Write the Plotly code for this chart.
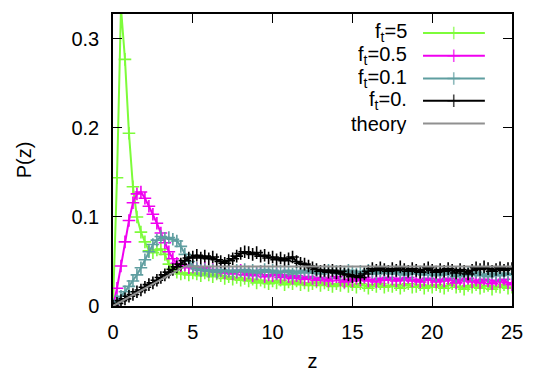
import plotly.graph_objects as go

# bin centres, z = 0 .. 25 in steps of 0.25
z = [
    0.0, 0.25, 0.5, 0.75, 1.0, 1.25, 1.5, 1.75, 2.0, 2.25,
    2.5, 2.75, 3.0, 3.25, 3.5, 3.75, 4.0, 4.25, 4.5, 4.75,
    5.0, 5.25, 5.5, 5.75, 6.0, 6.25, 6.5, 6.75, 7.0, 7.25,
    7.5, 7.75, 8.0, 8.25, 8.5, 8.75, 9.0, 9.25, 9.5, 9.75,
    10.0, 10.25, 10.5, 10.75, 11.0, 11.25, 11.5, 11.75, 12.0, 12.25,
    12.5, 12.75, 13.0, 13.25, 13.5, 13.75, 14.0, 14.25, 14.5, 14.75,
    15.0, 15.25, 15.5, 15.75, 16.0, 16.25, 16.5, 16.75, 17.0, 17.25,
    17.5, 17.75, 18.0, 18.25, 18.5, 18.75, 19.0, 19.25, 19.5, 19.75,
    20.0, 20.25, 20.5, 20.75, 21.0, 21.25, 21.5, 21.75, 22.0, 22.25,
    22.5, 22.75, 23.0, 23.25, 23.5, 23.75, 24.0, 24.25, 24.5, 24.75,
    25.0,
]

p_ft5 = [
    0.000, 0.144, 0.335, 0.277, 0.194, 0.134, 0.100, 0.083, 0.072, 0.062,
    0.060, 0.063, 0.064, 0.058, 0.047, 0.042, 0.038, 0.036, 0.037, 0.035,
    0.037, 0.036, 0.034, 0.037, 0.035, 0.033, 0.036, 0.034, 0.031, 0.033,
    0.030, 0.032, 0.029, 0.031, 0.028, 0.030, 0.026, 0.029, 0.027, 0.025,
    0.028, 0.026, 0.029, 0.024, 0.027, 0.025, 0.028, 0.024, 0.026, 0.023,
    0.025, 0.027, 0.023, 0.026, 0.024, 0.022, 0.025, 0.023, 0.026, 0.022,
    0.024, 0.021, 0.025, 0.023, 0.020, 0.024, 0.022, 0.025, 0.021, 0.023,
    0.022, 0.024, 0.020, 0.023, 0.025, 0.021, 0.022, 0.024, 0.020, 0.023,
    0.021, 0.024, 0.022, 0.020, 0.023, 0.025, 0.021, 0.022, 0.019, 0.023,
    0.021, 0.024, 0.020, 0.022, 0.023, 0.019, 0.022, 0.021, 0.024, 0.020,
    0.021,
]

p_ft05 = [
    0.000, 0.020, 0.045, 0.072, 0.096, 0.116, 0.126, 0.128, 0.121, 0.112,
    0.103, 0.093, 0.082, 0.071, 0.061, 0.053, 0.048, 0.045, 0.046, 0.043,
    0.044, 0.042, 0.040, 0.043, 0.039, 0.041, 0.038, 0.040, 0.037, 0.039,
    0.036, 0.038, 0.040, 0.035, 0.037, 0.034, 0.036, 0.038, 0.033, 0.035,
    0.034, 0.036, 0.032, 0.035, 0.033, 0.031, 0.034, 0.032, 0.030, 0.033,
    0.031, 0.029, 0.032, 0.030, 0.028, 0.031, 0.033, 0.029, 0.027, 0.030,
    0.028, 0.031, 0.029, 0.032, 0.028, 0.030, 0.027, 0.031, 0.029, 0.032,
    0.030, 0.028, 0.031, 0.029, 0.032, 0.028, 0.030, 0.027, 0.029, 0.031,
    0.029, 0.027, 0.030, 0.028, 0.031, 0.029, 0.026, 0.030, 0.028, 0.031,
    0.027, 0.029, 0.026, 0.030, 0.028, 0.025, 0.029, 0.027, 0.030, 0.026,
    0.024,
]

p_ft01 = [
    0.002, 0.006, 0.011, 0.016, 0.022, 0.028, 0.035, 0.043, 0.052, 0.061,
    0.069, 0.074, 0.078, 0.076, 0.077, 0.075, 0.073, 0.067, 0.058, 0.050,
    0.045, 0.042, 0.040, 0.041, 0.039, 0.040, 0.038, 0.041, 0.039, 0.040,
    0.038, 0.040, 0.039, 0.041, 0.038, 0.040, 0.037, 0.039, 0.041, 0.038,
    0.040, 0.037, 0.039, 0.038, 0.040, 0.036, 0.039, 0.037, 0.040, 0.038,
    0.037, 0.039, 0.036, 0.038, 0.040, 0.037, 0.039, 0.036, 0.038, 0.040,
    0.038, 0.036, 0.039, 0.037, 0.040, 0.038, 0.036, 0.039, 0.037, 0.038,
    0.036, 0.039, 0.037, 0.035, 0.038, 0.036, 0.039, 0.037, 0.035, 0.038,
    0.036, 0.034, 0.037, 0.035, 0.038, 0.036, 0.033, 0.036, 0.034, 0.037,
    0.035, 0.038, 0.034, 0.036, 0.033, 0.037, 0.035, 0.034, 0.037, 0.035,
    0.036,
]

p_ft0 = [
    0.000, 0.003, 0.006, 0.008, 0.011, 0.013, 0.016, 0.018, 0.021, 0.024,
    0.026, 0.029, 0.032, 0.035, 0.038, 0.041, 0.044, 0.047, 0.051, 0.054,
    0.055, 0.057, 0.054, 0.056, 0.053, 0.055, 0.052, 0.050, 0.048, 0.051,
    0.053, 0.056, 0.059, 0.061, 0.060, 0.058, 0.060, 0.056, 0.057, 0.054,
    0.055, 0.052, 0.054, 0.051, 0.053, 0.055, 0.050, 0.048, 0.047, 0.045,
    0.043, 0.041, 0.039, 0.040, 0.038, 0.040, 0.037, 0.039, 0.036, 0.035,
    0.033, 0.034, 0.032, 0.036, 0.039, 0.042, 0.040, 0.043, 0.041, 0.039,
    0.042, 0.040, 0.044, 0.041, 0.039, 0.042, 0.040, 0.038, 0.041, 0.043,
    0.040, 0.038, 0.041, 0.039, 0.042, 0.040, 0.037, 0.041, 0.039, 0.036,
    0.040, 0.043, 0.041, 0.044, 0.042, 0.039, 0.041, 0.043, 0.040, 0.042,
    0.042,
]

theory_z = [0.0, 4.5, 25.0]
theory_p = [0.0, 0.0445, 0.0445]

series = [
    ("f<sub>t</sub>=5", p_ft5, "#7dfc3a"),
    ("f<sub>t</sub>=0.5", p_ft05, "#f000f0"),
    ("f<sub>t</sub>=0.1", p_ft01, "#5f9ea0"),
    ("f<sub>t</sub>=0.", p_ft0, "#000000"),
]
theory_color = "#909090"

FONT = "Liberation Sans, Arial, sans-serif"

fig = go.Figure()

for name, vals, color in series:
    fig.add_trace(go.Scatter(
        x=z, y=vals, mode="lines+markers", name=name, showlegend=False,
        line=dict(color=color, width=2),
        marker=dict(symbol="cross-thin", size=9, color=color,
                    line=dict(color=color, width=1.6)),
    ))

fig.add_trace(go.Scatter(
    x=theory_z, y=theory_p, mode="lines", name="theory", showlegend=False,
    line=dict(color=theory_color, width=2),
))

# gnuplot-style key: label right-aligned, sample line to its right
key_rows = [0.935, 0.857, 0.779, 0.703, 0.625]
key_items = [(n, c, True) for n, _, c in series] + [("theory", theory_color, False)]
for (label, color, has_marker), ky in zip(key_items, key_rows):
    fig.add_annotation(
        xref="paper", yref="paper", x=0.742, y=ky, text=label,
        showarrow=False, xanchor="right", yanchor="middle", height=21,
        valign="middle",
        font=dict(family=FONT, size=20, color="black"),
    )
    fig.add_trace(go.Scatter(
        x=[0.777, 0.854, 0.932], y=[ky, ky, ky], xaxis="x2", yaxis="y2",
        mode="lines+markers" if has_marker else "lines", showlegend=False,
        hoverinfo="skip",
        line=dict(color=color, width=2),
        marker=dict(symbol="cross-thin", size=[0, 9, 0], color=color,
                    line=dict(color=color, width=1.6)),
    ))

axis_common = dict(
    showgrid=False, zeroline=False, showline=True, linecolor="black",
    linewidth=1.5, mirror="ticks", ticks="inside", ticklen=9, tickwidth=1.3,
    tickcolor="black", automargin=False,
    tickfont=dict(family=FONT, size=20, color="black"),
)

fig.update_layout(
    width=550, height=373,
    margin=dict(l=113, r=38, t=14, b=67),
    paper_bgcolor="white", plot_bgcolor="white",
    font=dict(family=FONT, size=20, color="black"),
    xaxis=dict(range=[0, 25], tickvals=[0, 5, 10, 15, 20, 25],
               ticklabelstandoff=7,
               title=dict(text="z", standoff=12, font=dict(family=FONT, size=20)),
               **axis_common),
    yaxis=dict(range=[0, 0.328], tickvals=[0, 0.1, 0.2, 0.3],
               ticktext=["0", "0.1", "0.2", "0.3"], ticklabelstandoff=8,
               title=dict(text="P(z)", standoff=34, font=dict(family=FONT, size=20)),
               **axis_common),
    xaxis2=dict(range=[0, 1], overlaying="x", visible=False, fixedrange=True),
    yaxis2=dict(range=[0, 1], overlaying="y", visible=False, fixedrange=True),
    showlegend=False,
)

# drop the browser's default body margin so the figure sits at the window origin
fig.write_html("out.html", config={"displayModeBar": False},
               post_script="document.body.style.margin='0';")
